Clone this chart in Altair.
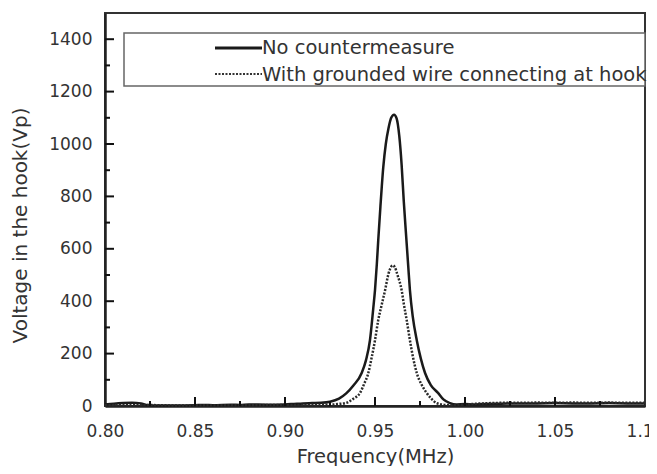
import altair as alt
import pandas as pd

# ---- data ----
freq_solid = [0.800, 0.805, 0.810, 0.815, 0.820, 0.823, 0.830, 0.840, 0.850, 0.855,
              0.860, 0.870, 0.875, 0.880, 0.890, 0.900, 0.905, 0.910, 0.915, 0.920,
              0.925, 0.930, 0.934, 0.938, 0.9426, 0.945, 0.9472, 0.949, 0.950, 0.951,
              0.9518, 0.953, 0.9546, 0.956, 0.9575, 0.959, 0.9606, 0.962, 0.9635, 0.9648,
              0.966, 0.9672, 0.9685, 0.9694, 0.971, 0.9732, 0.9755, 0.9778, 0.981, 0.985,
              0.988, 0.9917, 0.995, 1.000, 1.005, 1.010, 1.020, 1.030, 1.040, 1.050,
              1.060, 1.070, 1.080, 1.090, 1.100]
volt_solid = [6, 9, 11, 12, 10, 4, 2, 2, 3, 4,
              3, 5, 4, 6, 5, 6, 8, 10, 11, 12,
              16, 28, 48, 78, 126, 175, 251, 370, 442, 540,
              632, 760, 912, 1000, 1060, 1100, 1112, 1098, 1030, 920,
              780, 659, 530, 442, 340, 251, 180, 126, 80, 50,
              25, 11, 6, 8, 6, 8, 9, 10, 10, 11,
              10, 10, 11, 10, 10]

freq_dotted = [0.800, 0.820, 0.840, 0.860, 0.880, 0.900, 0.910, 0.920, 0.925, 0.930,
               0.934, 0.938, 0.9417, 0.944, 0.9463, 0.948, 0.950, 0.9518, 0.9535, 0.9556,
               0.9575, 0.959, 0.9598, 0.961, 0.9625, 0.9648, 0.966, 0.9676, 0.9694, 0.971,
               0.9732, 0.976, 0.9787, 0.981, 0.9843, 0.988, 0.992, 0.995, 1.000, 1.010,
               1.020, 1.030, 1.040, 1.050, 1.060, 1.070, 1.080, 1.090, 1.100]
volt_dotted = [3, 4, 2, 3, 3, 4, 4, 5, 5, 8,
               12, 28, 50, 85, 126, 180, 251, 328, 380, 442,
               505, 532, 537, 530, 500, 442, 390, 328, 251, 190,
               126, 80, 50, 30, 11, 5, 3, 4, 6, 10,
               12, 12, 13, 12, 13, 12, 13, 12, 12]

x_labels = [0.80, 0.85, 0.90, 0.95, 1.00, 1.05, 1.10]
y_labels = [0, 200, 400, 600, 800, 1000, 1200, 1400]
x_major = [0.85, 0.90, 0.95, 1.00, 1.05]
x_minor = [0.825, 0.875, 0.925, 0.975, 1.025, 1.075]
y_major = [200, 400, 600, 800, 1000, 1200, 1400]
y_minor = [100, 300, 500, 700, 900, 1100, 1300]
legend_labels = ["No countermeasure", "With grounded wire connecting at hook"]

FONT = "DejaVu Sans"
TXT = "#333333"
W, H = 540, 393

df_solid = pd.DataFrame({"f": freq_solid, "v": volt_solid})
df_dotted = pd.DataFrame({"f": freq_dotted, "v": volt_dotted})

xs = alt.Scale(domain=[0.8, 1.1], nice=False, zero=False)
ys = alt.Scale(domain=[0, 1500], nice=False)

x_main_axis = alt.Axis(orient="bottom", values=x_labels, format=".2f", ticks=False, tickSize=0,
                       grid=False, labelFont=FONT, labelFontSize=17, labelColor=TXT,
                       labelPadding=17, labelFlush=False, labelOverlap=False,
                       domainColor="#222222", domainWidth=2.5,
                       title="Frequency(MHz)", titleFont=FONT, titleFontSize=19.5,
                       titleFontWeight="normal", titleColor=TXT, titleY=56,
                       titleBaseline="alphabetic")
y_main_axis = alt.Axis(orient="left", values=y_labels, format="d", ticks=False, tickSize=0,
                       grid=False, labelFont=FONT, labelFontSize=17, labelColor=TXT,
                       labelPadding=13, labelFlush=False, labelOverlap=False,
                       domainColor="#222222", domainWidth=2.5,
                       title="Voltage in the hook(Vp)", titleFont=FONT, titleFontSize=20,
                       titleFontWeight="normal", titleColor=TXT, titleX=-85, titleY=212,
                       titleAngle=270, titleAlign="center", titleBaseline="middle")

solid = alt.Chart(df_solid).mark_line(color="#1a1a1a", strokeWidth=2.5, interpolate="monotone").encode(
    x=alt.X("f:Q", scale=xs, axis=x_main_axis),
    y=alt.Y("v:Q", scale=ys, axis=y_main_axis),
)
dotted = alt.Chart(df_dotted).mark_line(color="#2a2a2a", strokeWidth=2.5, strokeDash=[2, 1.5],
                                        interpolate="monotone").encode(
    x=alt.X("f:Q", scale=xs, axis=None),
    y=alt.Y("v:Q", scale=ys, axis=None),
)

# inward-pointing axis ticks, placed through the shared scales
def x_ticks(vals, size):
    return alt.Chart(pd.DataFrame({"f": vals})).mark_tick(
        color="#111111", thickness=2, size=size, opacity=1).encode(
        x=alt.X("f:Q", scale=xs, axis=None), y=alt.value(H - size / 2))


def y_ticks(vals, size):
    return alt.Chart(pd.DataFrame({"v": vals})).mark_tick(
        color="#111111", thickness=2, size=size, opacity=1).encode(
        y=alt.Y("v:Q", scale=ys, axis=None), x=alt.value(size / 2))


ticks = [x_ticks(x_major, 9), x_ticks(x_minor, 5), y_ticks(y_major, 9), y_ticks(y_minor, 5)]

one = pd.DataFrame({"k": [0]})
box = alt.Chart(one).mark_rect(fill="white", stroke="#666666", strokeWidth=1.5).encode(
    x=alt.value(19), x2=alt.value(W), y=alt.value(20), y2=alt.value(73))
leg1 = alt.Chart(one).mark_rule(color="#1a1a1a", strokeWidth=3).encode(
    x=alt.value(110), x2=alt.value(157), y=alt.value(35))
leg2 = alt.Chart(one).mark_rule(color="#333333", strokeWidth=2, strokeDash=[2, 1.5]).encode(
    x=alt.value(110), x2=alt.value(157), y=alt.value(61))
txt1 = alt.Chart(pd.DataFrame({"t": [legend_labels[0]]})).mark_text(
    align="left", baseline="middle", font=FONT, fontSize=19.5, color=TXT).encode(
    x=alt.value(157), y=alt.value(35), text="t:N")
txt2 = alt.Chart(pd.DataFrame({"t": [legend_labels[1]]})).mark_text(
    align="left", baseline="middle", font=FONT, fontSize=19.5, color=TXT).encode(
    x=alt.value(157), y=alt.value(62), text="t:N")

chart = alt.layer(solid, dotted, *ticks, box, leg1, leg2, txt1, txt2).resolve_axis(
    x="independent", y="independent"
).properties(
    width=W, height=H,
    padding={"left": 97, "top": 5, "right": 4, "bottom": 60},
    autosize=alt.AutoSizeParams(type="none"),
    background="white",
).configure_view(stroke="#333333", strokeWidth=2)

chart.save("out.html", embed_options={"renderer": "svg", "actions": False})
